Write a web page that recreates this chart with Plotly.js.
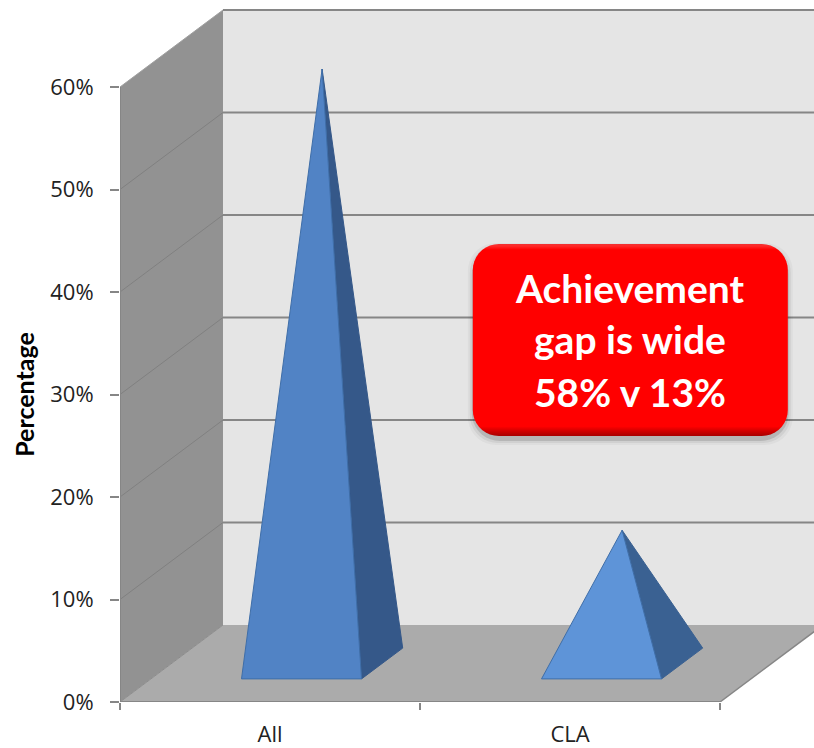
<!DOCTYPE html>
<html>
<head>
<meta charset="utf-8">
<script src="https://cdn.plot.ly/plotly-3.0.1.min.js"></script>
<style>html,body{margin:0;padding:0;background:#fff;overflow:hidden}</style>
</head>
<body>
<div id="chart" style="width:814px;height:748px"></div>
<script>
const categories = ['All', 'CLA'];
const values = [58, 13];
const frontColors = ['#5183c5', '#5e94d8'];
const sideColors = ['#355889', '#3a6192'];
const yTicks = [0, 10, 20, 30, 40, 50, 60];
const yTickLabels = ['0%', '10%', '20%', '30%', '40%', '50%', '60%'];
const calloutLines = ['Achievement', 'gap is wide', '58% v 13%'];

// oblique projection of the chart box: a point at depth d (0..1)
const DX = 0.3433, DY = 7.512;
const P = (x, v, d) => [x + d * DX, v + d * DY];
const line = '#868686';
const traces = [];
function poly(pts, fill, lineColor, w) {
  traces.push({
    type: 'scatter', mode: 'lines', x: pts.map(p => p[0]), y: pts.map(p => p[1]),
    fill: fill ? 'toself' : 'none', fillcolor: fill || undefined,
    line: {color: lineColor || 'rgba(0,0,0,0)', width: w === undefined ? 1 : w},
    hoverinfo: 'skip', showlegend: false, cliponaxis: false
  });
}
const XN = categories.length, TOP = 60;
// back wall, side wall, floor
poly([P(0,0,1), P(3,0,1), P(3,TOP,1), P(0,TOP,1), P(0,0,1)], '#e5e5e5');
poly([P(0,0,0), P(0,0,1), P(0,TOP,1), P(0,TOP,0), P(0,0,0)], '#929292');
poly([P(0,0,0), P(XN,0,0), P(XN,0,1), P(0,0,1), P(0,0,0)], '#ababab');
poly([P(XN,0,1), P(3,0,1)], null, '#9a9a9a', 1);
// gridlines
yTicks.forEach(v => {
  if (v > 0) {
    poly([P(0,v,0), P(0,v,1)], null, v === TOP ? '#a0a0a0' : '#808080', 1);
    poly([P(0,v,1), P(3,v,1)], null, line, 2);
  }
});
poly([P(0,0,0), P(0,0,1)], null, '#8c8c8c', 1);
poly([P(XN,0,0), P(XN,0,1)], null, line, 1.5);
// axis lines
poly([P(0,0,0), P(0,TOP,0)], null, line, 2);
poly([P(0,0,0), P(XN,0,0)], null, line, 2);

// pyramids
const HALF = 0.2;
const OFFSET = 0.002;
categories.forEach((c, i) => {
  const xc = i + 0.5 + OFFSET, v = values[i];
  const apex = P(xc, v, 0.5), fl = P(xc-HALF,0,0.3), fr = P(xc+HALF,0,0.3), br = P(xc+HALF,0,0.7);
  poly([fr, br, apex, fr], sideColors[i], sideColors[i], 1);
  poly([fl, fr, apex, fl], frontColors[i], '#3f6ea8', 1);
});

// callout (reference box in data units)
const bx0 = 1.176, bx1 = 2.226, by0 = 25.95, by1 = 44.68;
const yPerPx = 60/615, xPerPx = 1/300;
function rrect(inset, r, ox, oy) {
  const pts = [], L = bx0 + inset*xPerPx + ox*xPerPx, R = bx1 - inset*xPerPx + ox*xPerPx,
        B = by0 + inset*yPerPx - oy*yPerPx, T = by1 - inset*yPerPx - oy*yPerPx;
  const corners = [[R,T,0],[L,T,90],[L,B,180],[R,B,270]];
  corners.forEach(([cx,cy,a0]) => {
    const sx = cx === R ? -1 : 1, sy = cy === T ? -1 : 1;
    for (let a = 0; a <= 90; a += 10) {
      const t = (a0 + a) * Math.PI / 180;
      pts.push([cx + sx*r*xPerPx + r*Math.cos(t)*xPerPx, cy + sy*r*yPerPx + r*Math.sin(t)*yPerPx]);
    }
  });
  pts.push(pts[0]);
  return pts;
}
[[ -5,'rgba(0,0,0,0.03)'], [-3,'rgba(0,0,0,0.06)'], [-1,'rgba(0,0,0,0.12)']].forEach(([ins, col]) =>
  poly(rrect(ins, 28, 0, 4), col));
const outer = rrect(0, 26, 0, 0);
traces.push({
  type: 'scatter', mode: 'lines', x: outer.map(p => p[0]), y: outer.map(p => p[1]),
  fill: 'toself', line: {color: 'rgba(0,0,0,0)', width: 0}, hoverinfo: 'skip', showlegend: false, cliponaxis: false,
  fillgradient: {type: 'vertical', colorscale: [[0,'#a80000'],[0.025,'#d00000'],[0.05,'#ff0000'],[0.97,'#ff0000'],[0.99,'#ff2a2a'],[1,'#f03030']]}
});
// carrier for the labelled value axis
traces.push({type: 'scatter', mode: 'none', x: [0], y: [0], xaxis: 'x', yaxis: 'y2', hoverinfo: 'skip', showlegend: false});

const annotations = calloutLines.map((t, i) => ({
  x: (bx0 + bx1) / 2, y: [40.35, 35.4, 30.25][i], xref: 'x', yref: 'y', text: t, showarrow: false,
  font: {family: 'Lato, "Open Sans", sans-serif', size: 39, color: '#ffffff', weight: 700},
  xanchor: 'center', yanchor: 'middle'
}));

const layout = {
  width: 814, height: 748, autosize: false,
  margin: {l: 120, r: 0, t: 0, b: 46, pad: 0},
  paper_bgcolor: '#ffffff', plot_bgcolor: 'rgba(0,0,0,0)', showlegend: false,
  font: {family: '"Open Sans", sans-serif', color: '#222222'},
  hovermode: false,
  xaxis: {
    type: 'linear', range: [0, 694/300], zeroline: false, showgrid: false, showline: false,
    tickmode: 'array', tickvals: categories.map((c, i) => i + 0.5), ticktext: categories,
    ticks: '', ticklabelstandoff: 17,
    tickfont: {family: '"Open Sans", sans-serif', size: 22, color: '#222222'},
    minor: {tickmode: 'array', tickvals: [0, 1, 2], ticks: 'outside', ticklen: 7, tickwidth: 2, tickcolor: line, showgrid: false}
  },
  yaxis: {range: [0, 702/10.25], visible: false, domain: [0, 1]},
  yaxis2: {
    domain: [0, 615/702], anchor: 'x', side: 'left',
    range: [0, 60], zeroline: false, showgrid: false, showline: false,
    tickmode: 'array', tickvals: yTicks, ticktext: yTickLabels,
    ticks: 'outside', ticklen: 9, tickwidth: 2, tickcolor: line, ticklabelstandoff: 12,
    tickfont: {family: '"Open Sans", sans-serif', size: 22, color: '#222222'},
    title: {text: 'Percentage', standoff: 8, font: {family: 'Lato, "Open Sans", sans-serif', size: 25, color: '#000000', weight: 700}}
  },
  annotations
};
Plotly.newPlot('chart', traces, layout, {displayModeBar: false, staticPlot: true});
</script>
</body>
</html>
